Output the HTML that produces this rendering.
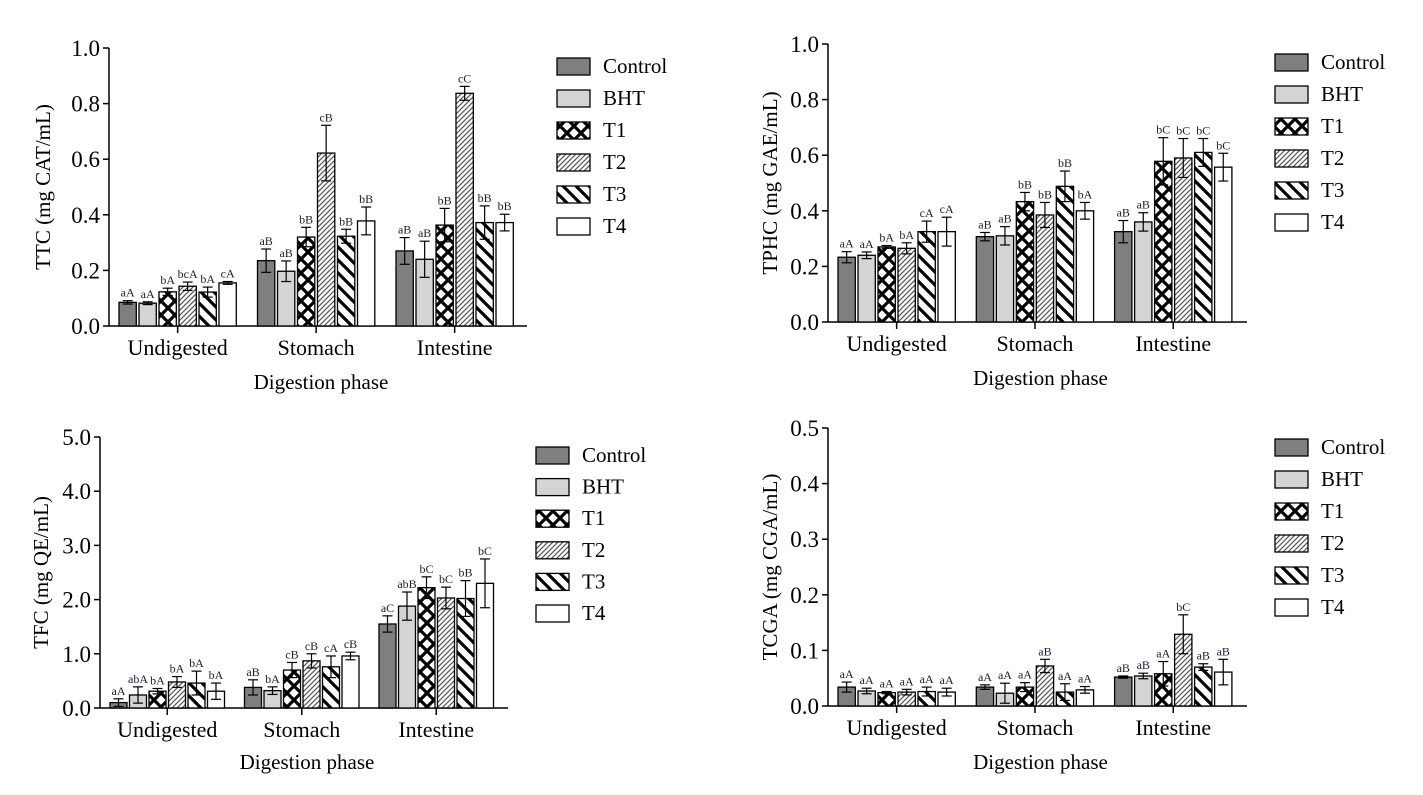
<!DOCTYPE html>
<html><head><meta charset="utf-8"><style>
html,body{margin:0;padding:0;background:#fff;}
svg{display:block;font-family:"Liberation Serif",serif;}
</style></head><body>
<svg id="fig" width="1423" height="795" viewBox="0 0 1423 795" xmlns="http://www.w3.org/2000/svg">
<defs>
<pattern id="pT1" patternUnits="userSpaceOnUse" width="14" height="14">
<rect width="14" height="14" fill="#fff"/>
<path d="M-2,-2 L16,16 M-2,12 L2,16 M12,-2 L16,2 M16,-2 L-2,16 M-2,2 L2,-2 M12,16 L16,12" stroke="#000" stroke-width="3.2"/>
</pattern>
<pattern id="pT2" patternUnits="userSpaceOnUse" width="5" height="5">
<rect width="5" height="5" fill="#fff"/>
<path d="M-1,6 L6,-1 M-1,1 L1,-1 M4,6 L6,4" stroke="#555" stroke-width="1.2"/>
</pattern>
<pattern id="pT3" patternUnits="userSpaceOnUse" width="13" height="13">
<rect width="13" height="13" fill="#fff"/>
<path d="M-2,-2 L15,15 M-2,11 L2,15 M11,-2 L15,2" stroke="#000" stroke-width="3.2"/>
</pattern>
</defs>
</svg>
<script>
const seriesNames = ["Control","BHT","T1","T2","T3","T4"];
const categories = ["Undigested","Stomach","Intestine"];
const seriesFills = ["#7f7f7f","#d4d4d4","url(#pT1)","url(#pT2)","url(#pT3)","#ffffff"];

const ttcValues = [[0.085,0.235,0.27],[0.082,0.197,0.24],[0.123,0.32,0.363],[0.143,0.622,0.837],[0.122,0.323,0.372],[0.155,0.378,0.372]];
const ttcErrors = [[0.006,0.042,0.048],[0.005,0.037,0.065],[0.013,0.035,0.06],[0.015,0.1,0.025],[0.018,0.025,0.06],[0.005,0.05,0.03]];
const ttcLetters = [["aA","aB","aB"],["aA","aB","aB"],["bA","bB","bB"],["bcA","cB","cC"],["bA","bB","bB"],["cA","bB","bB"]];
const ttcTicks = ["0.0","0.2","0.4","0.6","0.8","1.0"];

const tphcValues = [[0.233,0.307,0.325],[0.24,0.31,0.36],[0.27,0.433,0.578],[0.265,0.385,0.59],[0.325,0.488,0.61],[0.325,0.4,0.557]];
const tphcErrors = [[0.02,0.015,0.04],[0.012,0.033,0.033],[0.005,0.033,0.085],[0.02,0.045,0.07],[0.038,0.055,0.05],[0.052,0.03,0.05]];
const tphcLetters = [["aA","aB","aB"],["aA","aB","aB"],["bA","bB","bC"],["bA","bB","bC"],["cA","bB","bC"],["cA","bA","bC"]];
const tphcTicks = ["0.0","0.2","0.4","0.6","0.8","1.0"];

const tfcValues = [[0.1,0.38,1.55],[0.24,0.32,1.88],[0.31,0.7,2.22],[0.48,0.87,2.03],[0.46,0.76,2.02],[0.31,0.96,2.3]];
const tfcErrors = [[0.07,0.14,0.15],[0.15,0.07,0.26],[0.05,0.14,0.2],[0.1,0.13,0.2],[0.22,0.2,0.33],[0.15,0.07,0.45]];
const tfcLetters = [["aA","aB","aC"],["abA","bA","abB"],["bA","cB","bC"],["bA","cB","bC"],["bA","cA","bB"],["bA","cB","bC"]];
const tfcTicks = ["0.0","1.0","2.0","3.0","4.0","5.0"];

const tcgaValues = [[0.034,0.034,0.052],[0.027,0.023,0.054],[0.024,0.034,0.058],[0.025,0.072,0.129],[0.026,0.025,0.07],[0.025,0.029,0.061]];
const tcgaErrors = [[0.009,0.004,0.002],[0.005,0.018,0.005],[0.002,0.008,0.022],[0.005,0.012,0.035],[0.008,0.015,0.006],[0.007,0.006,0.023]];
const tcgaLetters = [["aA","aA","aB"],["aA","aA","aB"],["aA","aA","aA"],["aA","aB","bC"],["aA","aA","aB"],["aA","aA","aB"]];
const tcgaTicks = ["0.0","0.1","0.2","0.3","0.4","0.5"];

const NS = "http://www.w3.org/2000/svg";
const svg = document.getElementById("fig");
function mk(tag, attrs, parent, text){
  const e = document.createElementNS(NS, tag);
  for (const k in attrs) e.setAttribute(k, attrs[k]);
  if (text !== undefined) e.textContent = text;
  parent.appendChild(e);
  return e;
}

function panel(cfg){
  const g = mk("g", {}, svg);
  
  
  const y = v => cfg.y0 - (v / cfg.max) * (cfg.y0 - cfg.yTop);
  const ax = mk("line", {x1:cfg.ax, y1:cfg.yTop, x2:cfg.ax, y2:cfg.y0, stroke:"#000", "stroke-width":1.5}, g);
  
  
  cfg.ticks.forEach((t, i) => {
    const v = parseFloat(t);
    mk("line", {x1:cfg.ax-6, y1:y(v), x2:cfg.ax, y2:y(v), stroke:"#000", "stroke-width":1.5}, g);
    const tl = mk("text", {x:cfg.ax-9, y:y(v)+8, "text-anchor":"end", "font-size":23, fill:"#000"}, g, t);
    
    
  });
  const xa = mk("line", {x1:cfg.ax, y1:cfg.y0, x2:cfg.axEnd, y2:cfg.y0, stroke:"#000", "stroke-width":1.5}, g);
  
  
  categories.forEach((c, ci) => {
    const gx = cfg.g0 + ci * cfg.gp;
    const center = gx + (6 * cfg.bp - (cfg.bp - cfg.bw)) / 2;
    mk("line", {x1:center, y1:cfg.y0, x2:center, y2:cfg.y0+7, stroke:"#000", "stroke-width":1.5}, g);
    const cl = mk("text", {x:center, y:cfg.catY, "text-anchor":"middle", "font-size":22, fill:"#000"}, g, c);
    
    
    seriesNames.forEach((s, si) => {
      const v = cfg.vals[si][ci], e = cfg.errs[si][ci];
      const bx = gx + si * cfg.bp;
      const r = mk("rect", {x:bx, y:y(v), width:cfg.bw, height:cfg.y0 - y(v), fill:seriesFills[si], stroke:"#000", "stroke-width":1.3}, g);
      
      
      const mx = bx + cfg.bw / 2;
      const eg = mk("g", {stroke:"#000", "stroke-width":1.2}, g);
      
      
      mk("line", {x1:mx, y1:y(v+e), x2:mx, y2:y(Math.max(0,v-e))}, eg);
      mk("line", {x1:mx-5, y1:y(v+e), x2:mx+5, y2:y(v+e)}, eg);
      mk("line", {x1:mx-5, y1:y(Math.max(0,v-e)), x2:mx+5, y2:y(Math.max(0,v-e))}, eg);
      const lt = mk("text", {x:mx, y:y(v+e)-4, "text-anchor":"middle", "font-size":12, fill:"#1a1a3a"}, g, cfg.letters[si][ci]);
      
      
    });
  });
  const xt = mk("text", {x:(cfg.ax + cfg.axEnd)/2 + 3, y:cfg.titleY, "text-anchor":"middle", "font-size":21, fill:"#000"}, g, "Digestion phase");
  
  
  const yc = (cfg.yTop + cfg.y0) / 2;
  const yt = mk("text", {x:cfg.ytx, y:yc, "text-anchor":"middle", "font-size":21, fill:"#000", transform:`rotate(-90 ${cfg.ytx} ${yc})`}, g, cfg.ytitle);
  
  
  const lg = mk("g", {}, g);
  
  
  seriesNames.forEach((s, si) => {
    const cy = cfg.legY + si * cfg.legP;
    const le = mk("g", {}, lg);
    
    
    mk("rect", {x:cfg.legX, y:cy-8, width:33, height:17, fill:seriesFills[si], stroke:"#000", "stroke-width":1.3}, le);
    mk("text", {x:cfg.legX+46, y:cy+7, "font-size":21, fill:"#000"}, le, s);
  });
}

panel({name:"ttc", vals:ttcValues, errs:ttcErrors, letters:ttcLetters, ticks:ttcTicks, max:1.0,
  ax:109, axEnd:527, yTop:48, y0:326, g0:119, gp:138.5, bp:20, bw:17.3, catY:355, titleY:389,
  ytx:50, ytitle:"TTC (mg CAT/mL)", legX:557, legY:66, legP:32});
panel({name:"tphc", vals:tphcValues, errs:tphcErrors, letters:tphcLetters, ticks:tphcTicks, max:1.0,
  ax:828, axEnd:1247, yTop:44, y0:322, g0:838, gp:138.3, bp:20, bw:17.3, catY:351, titleY:385,
  ytx:777, ytitle:"TPHC (mg GAE/mL)", legX:1275, legY:62, legP:32});
panel({name:"tfc", vals:tfcValues, errs:tfcErrors, letters:tfcLetters, ticks:tfcTicks, max:5.0,
  ax:100, axEnd:508, yTop:437, y0:708, g0:110, gp:134.5, bp:19.5, bw:17, catY:737, titleY:769,
  ytx:48, ytitle:"TFC (mg QE/mL)", legX:536, legY:455, legP:31.6});
panel({name:"tcga", vals:tcgaValues, errs:tcgaErrors, letters:tcgaLetters, ticks:tcgaTicks, max:0.5,
  ax:828, axEnd:1247, yTop:428, y0:706, g0:838, gp:138.3, bp:20, bw:17.3, catY:735, titleY:769,
  ytx:777, ytitle:"TCGA (mg CGA/mL)", legX:1275, legY:447, legP:32});
</script>
</body></html>
